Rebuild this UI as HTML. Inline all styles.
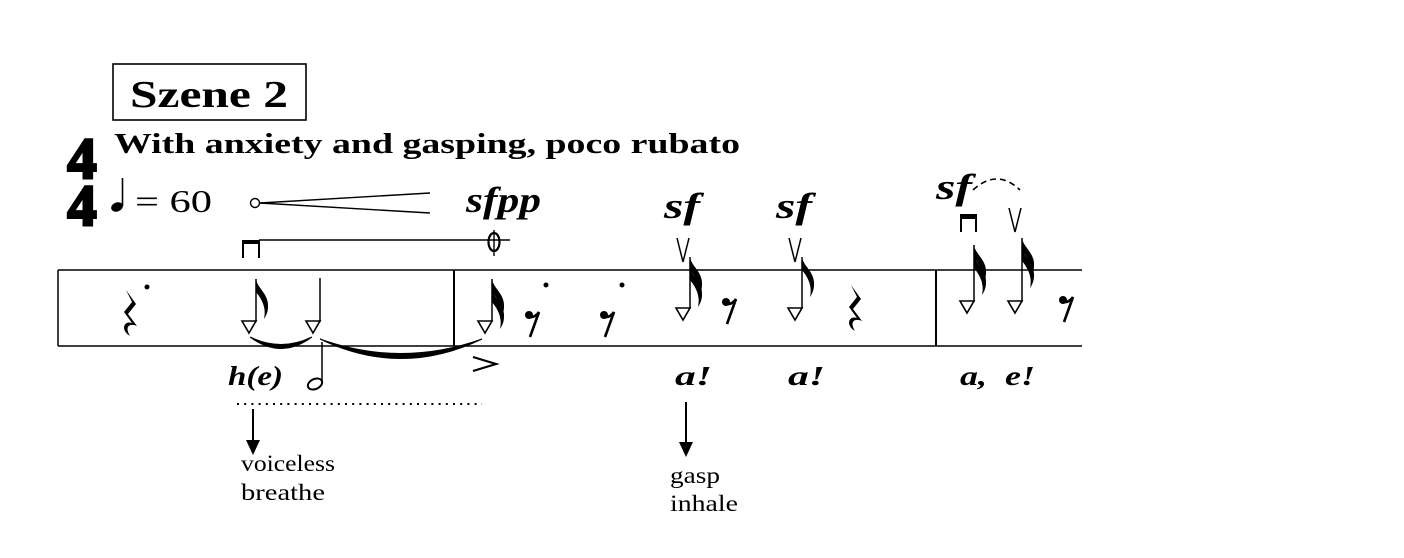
<!DOCTYPE html>
<html><head><meta charset="utf-8"><style>
html,body{margin:0;padding:0;background:#fff;}
svg{display:block;}
.s{font-family:"Liberation Serif",serif;}
</style></head><body>
<svg width="1404" height="558" viewBox="0 0 1404 558" xmlns="http://www.w3.org/2000/svg">
<defs>
<path id="f8" d="M0,0 C1,9 13,15 12,28 C12,33 10,37 8,40 C10,31 8,23 0,13 Z" fill="#000"/>
<path id="tri" d="M-7,-6 L7,-6 L0,6 Z" fill="#fff" stroke="#000" stroke-width="1.6"/>
<g id="rest8"><circle cx="0" cy="0" r="4"/><path d="M0,2 Q6,3 10,-3 L1,22" fill="none" stroke="#000" stroke-width="2.6"/></g>
<path id="rq" d="M-4,-20 L6,-6 L-2,4 L7,16 C0,13 -6,16 0,26 C-10,20 -6,10 2,13 L-6,2 L2,-8 Z" fill="#000"/>
</defs>
<g class="s">
<rect x="113" y="64" width="193" height="56" fill="none" stroke="#000" stroke-width="1.6"/>
<text x="130" y="107" font-size="38" font-weight="bold" textLength="158" lengthAdjust="spacingAndGlyphs">Szene 2</text>
<text x="114" y="153" font-size="28" font-weight="bold" textLength="626" lengthAdjust="spacingAndGlyphs">With anxiety and gasping, poco rubato</text>
<text x="82" y="178" font-size="58" font-weight="900" text-anchor="middle" stroke="#000" stroke-width="3">4</text>
<text x="82" y="225" font-size="58" font-weight="900" text-anchor="middle" stroke="#000" stroke-width="3">4</text>
<ellipse cx="117" cy="207" rx="6" ry="4.5" transform="rotate(-20 117 207)" fill="#000"/>
<line x1="122.5" y1="206" x2="122.5" y2="178" stroke="#000" stroke-width="1.6"/>
<text x="135" y="212" font-size="32" textLength="77" lengthAdjust="spacingAndGlyphs">= 60</text>
<circle cx="255" cy="203" r="4.5" fill="#fff" stroke="#000" stroke-width="1.4"/>
<line x1="260" y1="203" x2="430" y2="193" stroke="#000" stroke-width="1.4"/>
<line x1="260" y1="203" x2="430" y2="213" stroke="#000" stroke-width="1.4"/>
<text x="466" y="212" font-size="36" font-weight="bold" font-style="italic" textLength="75" lengthAdjust="spacingAndGlyphs">sfpp</text>
<text x="664" y="218" font-size="36" font-weight="bold" font-style="italic" textLength="36" lengthAdjust="spacingAndGlyphs">sf</text>
<text x="776" y="218" font-size="36" font-weight="bold" font-style="italic" textLength="36" lengthAdjust="spacingAndGlyphs">sf</text>
<text x="936" y="199" font-size="36" font-weight="bold" font-style="italic" textLength="36" lengthAdjust="spacingAndGlyphs">sf</text>
<path d="M973,190 Q997,168 1020,190" fill="none" stroke="#000" stroke-width="1.6" stroke-dasharray="6,4"/>
<line x1="259" y1="240" x2="510" y2="240" stroke="#000" stroke-width="1.6"/>
<path d="M243,258 V241 H259 V258" fill="none" stroke="#000" stroke-width="2"/>
<rect x="243" y="240" width="16" height="4" fill="#000"/>
<ellipse cx="494" cy="242" rx="5.5" ry="9" fill="none" stroke="#000" stroke-width="2.2"/>
<line x1="494" y1="230" x2="494" y2="256" stroke="#000" stroke-width="1.4"/>
<path d="M961,232 V215 H976 V232" fill="none" stroke="#000" stroke-width="2"/>
<rect x="961" y="215" width="15" height="4" fill="#000"/>
<path d="M677,238 L683,262 L689,238" fill="none" stroke="#000" stroke-width="1.5"/>
<path d="M789,238 L795,262 L801,238" fill="none" stroke="#000" stroke-width="1.5"/>
<path d="M1009,208 L1015,232 L1021,208" fill="none" stroke="#000" stroke-width="1.5"/>
<line x1="58" y1="270" x2="1082" y2="270" stroke="#000" stroke-width="1.5"/>
<line x1="58" y1="346" x2="1082" y2="346" stroke="#000" stroke-width="1.5"/>
<line x1="58" y1="270" x2="58" y2="346" stroke="#000" stroke-width="1.5"/>
<line x1="454" y1="270" x2="454" y2="346" stroke="#000" stroke-width="2"/>
<line x1="936" y1="270" x2="936" y2="346" stroke="#000" stroke-width="2"/>
<use href="#rq" x="130" y="310"/><circle cx="147" cy="287" r="2.5"/>
<use href="#rest8" x="529" y="315"/><circle cx="546" cy="285" r="2.5"/>
<use href="#rest8" x="604" y="315"/><circle cx="622" cy="285" r="2.5"/>
<use href="#rest8" x="726" y="302"/>
<use href="#rq" x="855" y="305"/>
<use href="#rest8" x="1063" y="300"/>
<use href="#tri" x="249" y="327"/><line x1="256" y1="322" x2="256" y2="279" stroke="#000" stroke-width="1.5"/><use href="#f8" x="256" y="279"/>
<use href="#tri" x="313" y="327"/><line x1="320" y1="322" x2="320" y2="278" stroke="#000" stroke-width="1.5"/>
<use href="#tri" x="485" y="327"/><line x1="492" y1="322" x2="492" y2="279" stroke="#000" stroke-width="1.5"/><use href="#f8" x="492" y="279"/><use href="#f8" x="492" y="289"/>
<use href="#tri" x="683" y="314"/><line x1="690" y1="309" x2="690" y2="257" stroke="#000" stroke-width="1.5"/><use href="#f8" x="690" y="257"/><use href="#f8" x="690" y="267"/>
<use href="#tri" x="795" y="314"/><line x1="802" y1="309" x2="802" y2="257" stroke="#000" stroke-width="1.5"/><use href="#f8" x="802" y="257"/>
<use href="#tri" x="967" y="307"/><line x1="974" y1="302" x2="974" y2="245" stroke="#000" stroke-width="1.5"/><use href="#f8" x="974" y="245"/><use href="#f8" x="974" y="255"/>
<use href="#tri" x="1015" y="307"/><line x1="1022" y1="302" x2="1022" y2="238" stroke="#000" stroke-width="1.5"/><use href="#f8" x="1022" y="238"/><use href="#f8" x="1022" y="248"/>
<path d="M250,337 Q281,360 312,337 Q281,352 250,337 Z" fill="#000" stroke="#000" stroke-width="1"/>
<path d="M320,339 Q401,378 482,339 Q401,368 320,339 Z" fill="#000" stroke="#000" stroke-width="1"/>
<ellipse cx="315" cy="384" rx="7.5" ry="5" transform="rotate(-25 315 384)" fill="none" stroke="#000" stroke-width="2"/>
<line x1="322" y1="381" x2="322" y2="342" stroke="#000" stroke-width="1.5"/>
<path d="M473,357 L496,364 L473,371" fill="none" stroke="#000" stroke-width="2.2"/>
<text x="228" y="385" font-size="27" font-weight="bold" font-style="italic" textLength="55" lengthAdjust="spacingAndGlyphs">h(e)</text>
<text x="675" y="385" font-size="27" font-weight="bold" font-style="italic" textLength="37" lengthAdjust="spacingAndGlyphs">a!</text>
<text x="788" y="385" font-size="27" font-weight="bold" font-style="italic" textLength="37" lengthAdjust="spacingAndGlyphs">a!</text>
<text x="960" y="385" font-size="27" font-weight="bold" font-style="italic" textLength="75" lengthAdjust="spacingAndGlyphs">a,&#160; e!</text>
<line x1="237" y1="404" x2="482" y2="404" stroke="#000" stroke-width="2" stroke-dasharray="2,5.2"/>
<line x1="253" y1="409" x2="253" y2="446" stroke="#000" stroke-width="2"/>
<path d="M246,440 L253,455 L260,440 Z" fill="#000"/>
<line x1="686" y1="402" x2="686" y2="448" stroke="#000" stroke-width="2"/>
<path d="M679,442 L686,457 L693,442 Z" fill="#000"/>
<text x="241" y="471" font-size="23" textLength="94" lengthAdjust="spacingAndGlyphs">voiceless</text>
<text x="241" y="500" font-size="23" textLength="84" lengthAdjust="spacingAndGlyphs">breathe</text>
<text x="670" y="483" font-size="23" textLength="50" lengthAdjust="spacingAndGlyphs">gasp</text>
<text x="670" y="511" font-size="23" textLength="68" lengthAdjust="spacingAndGlyphs">inhale</text>
</g>
</svg>
</body></html>
